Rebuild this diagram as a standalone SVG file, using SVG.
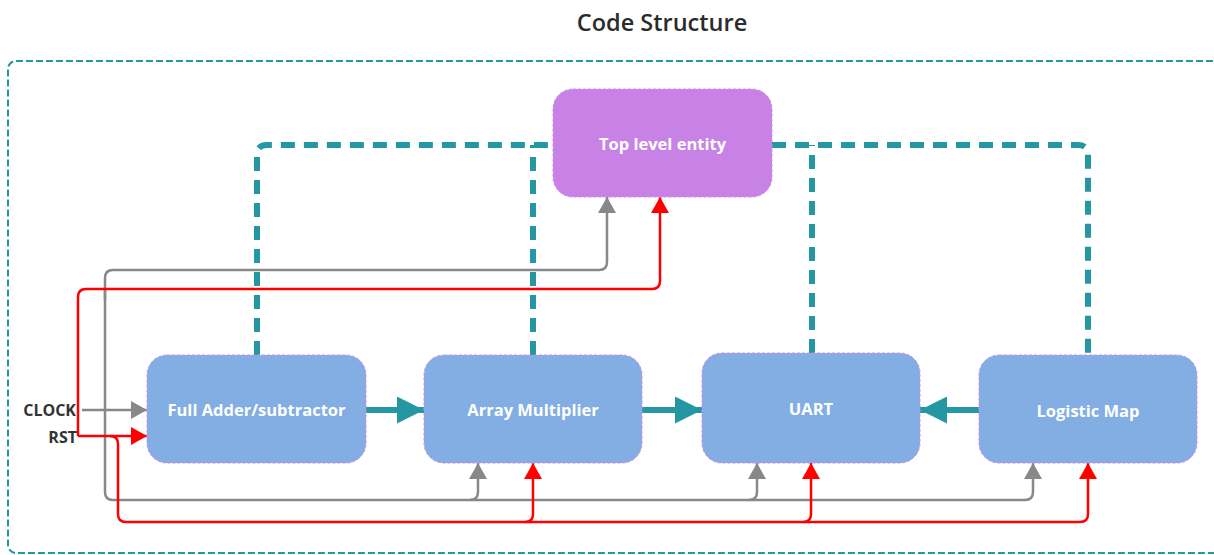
<svg xmlns="http://www.w3.org/2000/svg" width="1214" height="555" viewBox="0 0 1214 555">
<style>
.title{font-family:"Open Sans","Liberation Sans",sans-serif;font-weight:600;font-size:23.5px;fill:#2b2b2b}
.node rect{stroke:#d28ce8;stroke-width:1;stroke-dasharray:3 2}
.blue{fill:#82aee3}
.purple{fill:#c882e6}
.lbl{font-family:"Open Sans","Liberation Sans",sans-serif;font-weight:700;font-size:16.5px;fill:#ffffff;text-anchor:middle}
.sig{font-family:"Open Sans","Liberation Sans",sans-serif;font-weight:700;font-size:16px;fill:#333333;text-anchor:end}
.teal{fill:none;stroke:#2497a3;stroke-width:6;stroke-dasharray:14 9}
.tealsolid{fill:none;stroke:#2497a3;stroke-width:6}
.gray{fill:none;stroke:#888888;stroke-width:2.5}
.red{fill:none;stroke:#ff0000;stroke-width:2.5}
</style>
<defs>
<marker id="ag" markerUnits="userSpaceOnUse" markerWidth="16" markerHeight="18" viewBox="0 0 16 18" refX="16" refY="9" orient="auto"><path d="M0,0 L16,9 L0,18 Z" fill="#888888"/></marker>
<marker id="ar" markerUnits="userSpaceOnUse" markerWidth="16" markerHeight="18" viewBox="0 0 16 18" refX="16" refY="9" orient="auto"><path d="M0,0 L16,9 L0,18 Z" fill="#ff0000"/></marker>
<marker id="at" markerUnits="userSpaceOnUse" markerWidth="27" markerHeight="27" viewBox="0 0 27 27" refX="27" refY="13.5" orient="auto"><path d="M0,0 L27,13.5 L0,27 Z" fill="#2497a3"/></marker>
</defs>
<rect width="1214" height="555" fill="#ffffff"/>
<text class="title" x="662" y="31" text-anchor="middle">Code Structure</text>
<rect x="8" y="61" width="1240" height="492" rx="8" fill="none" stroke="#2497a3" stroke-width="2" stroke-dasharray="7 3"/>
<g id="connectors">
<path class="teal" d="M257,355 V155 Q257,145 267,145 H553"/>
<path class="teal" d="M533,355 V145"/>
<path class="teal" d="M772,145 H1078 Q1088,145 1088,155 V355"/>
<path class="teal" d="M812,353 V145"/>
<path class="tealsolid" d="M366,410 H424" marker-end="url(#at)"/>
<path class="tealsolid" d="M642,410 H702" marker-end="url(#at)"/>
<path class="tealsolid" d="M979,410 H920" marker-end="url(#at)"/>
<path class="gray" d="M82,410 H147" marker-end="url(#ag)"/>
<path class="gray" d="M105,300 V278 Q105,270 113,270 H599 Q607,270 607,262 V197" marker-end="url(#ag)"/>
<path class="gray" d="M105,290 V492 Q105,500 113,500 H1025 Q1033,500 1033,492 V463" marker-end="url(#ag)"/>
<path class="gray" d="M470,500 Q478,500 478,492 V463" marker-end="url(#ag)"/>
<path class="gray" d="M749,500 Q757,500 757,492 V463" marker-end="url(#ag)"/>
<path class="red" d="M78,436 H147" marker-end="url(#ar)"/>
<path class="red" d="M78,436 V297 Q78,289 86,289 H652 Q660,289 660,281 V197" marker-end="url(#ar)"/>
<path class="red" d="M110,436 Q118,436 118,444 V514 Q118,522 126,522 H1080 Q1088,522 1088,514 V463" marker-end="url(#ar)"/>
<path class="red" d="M525,522 Q533,522 533,514 V463" marker-end="url(#ar)"/>
<path class="red" d="M803,522 Q811,522 811,514 V463" marker-end="url(#ar)"/>
</g>
<g id="top-level-entity" class="node"><rect class="purple" x="553" y="89" width="219" height="108" rx="20"/><text class="lbl" x="662.5" y="150">Top level entity</text></g>
<g id="full-adder" class="node"><rect class="blue" x="147" y="355" width="219" height="108" rx="20"/><text class="lbl" x="256.5" y="416">Full Adder/subtractor</text></g>
<g id="array-multiplier" class="node"><rect class="blue" x="424" y="355" width="218" height="108" rx="20"/><text class="lbl" x="533" y="416">Array Multiplier</text></g>
<g id="uart" class="node"><rect class="blue" x="702" y="353" width="218" height="110" rx="20"/><text class="lbl" x="811" y="415">UART</text></g>
<g id="logistic-map" class="node"><rect class="blue" x="979" y="355" width="218" height="108" rx="20"/><text class="lbl" x="1088" y="417">Logistic Map</text></g>
<g id="signals">
<text class="sig" x="76" y="416">CLOCK</text>
<text class="sig" x="77" y="443">RST</text>
</g>
</svg>
